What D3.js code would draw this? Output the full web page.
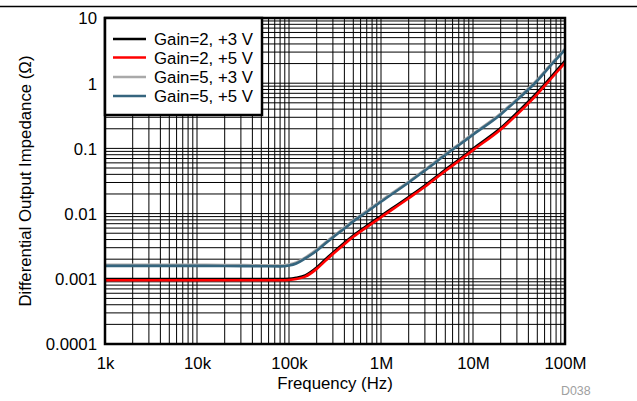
<!DOCTYPE html>
<html><head><meta charset="utf-8">
<script src="https://cdn.jsdelivr.net/npm/d3@7"></script>
<style>html,body{margin:0;padding:0;background:#fff;}svg{display:block;font-family:"Liberation Sans",Arial,sans-serif;}</style>
</head><body><svg id="c" width="637" height="401"></svg>
<script>
const freqs    = [1e3,2e3,5e3,1e4,2e4,5e4,8e4,1e5,1.2e5,1.5e5,2e5,2.5e5,3e5,4e5,5e5,7e5,1e6,2e6,3e6,5e6,7e6,1e7,2e7,3e7,5e7,7e7,1e8];
const gain2_3V = [0.00099,0.00099,0.00099,0.00099,0.00099,0.00099,0.00099,0.001,0.00104,0.00113,0.00149,0.002,0.00252,0.00357,0.00462,0.0065,0.0092,0.018,0.027,0.047,0.067,0.099,0.205,0.35,0.72,1.23,2.2];
const gain2_5V = [0.00095,0.00095,0.00095,0.00095,0.00095,0.00095,0.00095,0.00096,0.00099,0.00108,0.00142,0.0019,0.0024,0.0034,0.0044,0.0062,0.0088,0.0172,0.0258,0.045,0.064,0.094,0.195,0.33,0.68,1.16,2.05];
const gain5_3V = [0.00164,0.00164,0.00164,0.00164,0.00163,0.00161,0.0016,0.00166,0.00178,0.00212,0.0028,0.00362,0.00445,0.0061,0.00787,0.011,0.0157,0.031,0.0474,0.082,0.116,0.168,0.344,0.57,1.13,1.94,3.37];
const gain5_5V = [0.00158,0.00158,0.00158,0.00158,0.00157,0.00156,0.00155,0.0016,0.00172,0.00205,0.0027,0.0035,0.0043,0.0059,0.0076,0.0106,0.0152,0.030,0.0458,0.079,0.112,0.162,0.332,0.55,1.09,1.87,3.25];
const seriesNames = ["Gain=2, +3 V","Gain=2, +5 V","Gain=5, +3 V","Gain=5, +5 V"];
const seriesColors = ["#000000","#ff0000","#a9a9a9","#35657e"];
const xTickVals = [1e3,1e4,1e5,1e6,1e7,1e8];
const xTickLabels = ["1k","10k","100k","1M","10M","100M"];
const yTickVals = [1e-4,1e-3,1e-2,1e-1,1,10];
const yTickLabels = ["0.0001","0.001","0.01","0.1","1","10"];

const svg = d3.select("#c");
const L=105,R=565,T=18,B=344;
const x = d3.scaleLog().domain([1e3,1e8]).range([L,R]);
const y = d3.scaleLog().domain([1e-4,10]).range([B,T]);

// top rule
svg.append("line").attr("x1",0).attr("x2",637).attr("y1",6.5).attr("y2",6.5).attr("stroke","#000").attr("stroke-width",1.5);

// grid
const g = svg.append("g");
const xg=[],yg=[];
for(let e=3;e<8;e++) for(let k=1;k<10;k++) xg.push(k*Math.pow(10,e));
for(let e=-4;e<1;e++) for(let k=1;k<10;k++) yg.push(k*Math.pow(10,e));
g.selectAll(".vx").data(xg).enter().append("line").attr("x1",d=>x(d)).attr("x2",d=>x(d)).attr("y1",T).attr("y2",B).attr("stroke","#000").attr("stroke-width",1);
g.selectAll(".hy").data(yg).enter().append("line").attr("y1",d=>y(d)).attr("y2",d=>y(d)).attr("x1",L).attr("x2",R).attr("stroke","#000").attr("stroke-width",1);

// curves
const allSeries=[gain2_3V,gain2_5V,gain5_3V,gain5_5V];
const line = d3.line().x(d=>x(d[0])).y(d=>y(d[1])).curve(d3.curveMonotoneX);
[2,3,0,1].forEach(i=>{
  svg.append("path").datum(freqs.map((f,j)=>[f,allSeries[i][j]])).attr("d",line).attr("fill","none").attr("stroke",seriesColors[i]).attr("stroke-width",2.6);
});

// frame
svg.append("rect").attr("x",L).attr("y",T).attr("width",R-L).attr("height",B-T).attr("fill","none").attr("stroke","#000").attr("stroke-width",2.5);

// axes labels
const xa = svg.append("g").attr("transform",`translate(0,${B})`).call(d3.axisBottom(x).tickValues(xTickVals).tickFormat((d,i)=>xTickLabels[i]).tickSize(0).tickPadding(0));
xa.select(".domain").remove();
xa.selectAll("text").attr("y",25).attr("dy",null).attr("font-size","16.8px").attr("font-family","Liberation Sans, Arial, sans-serif").attr("fill","#000");
const ya = svg.append("g").attr("transform",`translate(${L},0)`).call(d3.axisLeft(y).tickValues(yTickVals).tickFormat((d,i)=>yTickLabels[i]).tickSize(0).tickPadding(0));
ya.select(".domain").remove();
ya.selectAll("text").attr("x",-8).attr("dy","0.35em").attr("font-size","16.8px").attr("font-family","Liberation Sans, Arial, sans-serif").attr("fill","#000");

svg.append("text").attr("x",(L+R)/2).attr("y",389).attr("text-anchor","middle").attr("font-size","16.8px").text("Frequency (Hz)");
svg.append("text").attr("transform",`translate(31,${(T+B)/2}) rotate(-90)`).attr("text-anchor","middle").attr("font-size","16.8px").text("Differential Output Impedance (Ω)");
svg.append("text").attr("x",561).attr("y",395).attr("font-size","12.4px").attr("fill","#a0a0a0").text("D038");

// legend
const lg = svg.append("g");
lg.append("rect").attr("x",L).attr("y",T).attr("width",157).attr("height",97).attr("fill","#fff").attr("stroke","#000").attr("stroke-width",2.5);
const rows=[39,57.5,77,96];
seriesNames.forEach((n,i)=>{
  lg.append("line").attr("x1",113).attr("x2",146).attr("y1",rows[i]).attr("y2",rows[i]).attr("stroke",seriesColors[i]).attr("stroke-width",2.6);
  lg.append("text").attr("x",154).attr("y",rows[i]).attr("dy","0.36em").attr("font-size","16.8px").text(n);
});
</script></body></html>
